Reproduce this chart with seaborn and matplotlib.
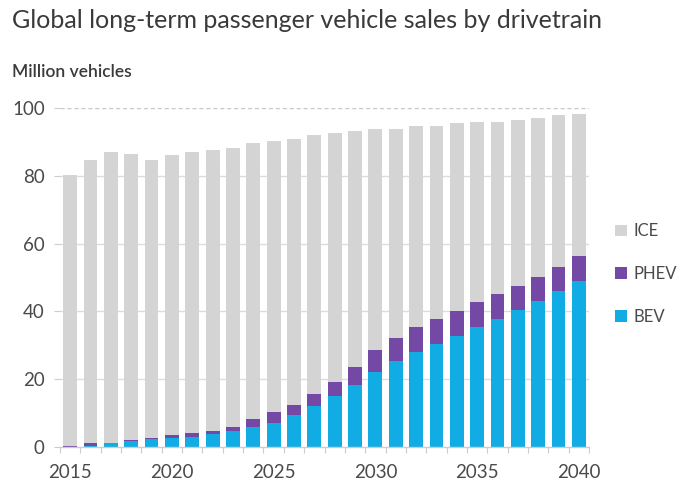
import numpy as np
import pandas as pd
import matplotlib
matplotlib.use("Agg")
import matplotlib.pyplot as plt
import seaborn as sns
from matplotlib.patches import Patch

years = list(range(2015, 2041))
bev = [0.1, 0.4, 1.1, 1.8, 2.3, 2.6, 3.1, 3.7, 4.6, 5.9, 7.1, 9.5, 12.1, 15.0,
       18.2, 22.0, 25.5, 28.0, 30.4, 32.9, 35.5, 37.8, 40.4, 43.1, 46.0, 49.1]
phev = [0.1, 0.7, 0.2, 0.3, 0.3, 0.8, 0.9, 0.9, 1.2, 2.3, 3.1, 3.0, 3.6, 4.3,
        5.5, 6.6, 6.8, 7.3, 7.4, 7.3, 7.4, 7.4, 7.2, 7.0, 7.2, 7.3]
ice = [80.0, 83.6, 85.8, 84.5, 82.1, 82.7, 83.1, 83.2, 82.6, 81.6, 80.1, 78.4,
       76.3, 73.4, 69.6, 65.4, 61.7, 59.4, 56.9, 55.3, 53.1, 50.8, 48.9, 47.0,
       44.7, 42.0]
series = ["ICE", "PHEV", "BEV"]
colors = {"ICE": "#d4d4d4", "PHEV": "#7449a6", "BEV": "#12ace4"}

df = pd.DataFrame({"year": years, "BEV": bev, "PHEV": phev, "ICE": ice})
df["ev"] = df["BEV"] + df["PHEV"]
df["total"] = df["ev"] + df["ICE"]

sns.set_theme(style="white")
plt.rcParams["font.family"] = ["Lato", "DejaVu Sans"]

fig = plt.figure(figsize=(6.85, 4.91), dpi=100)
ax = fig.add_axes([0.0876, 0.0896, 0.7723, 0.690])

grid_c = "#dcdcdc"
for v in [20, 40, 60, 80]:
    ax.axhline(v, color=grid_c, lw=1.0, zorder=0)
ax.axhline(100, color="#c8c8c8", lw=1.0, ls=(0, (3, 2)), zorder=0)

bw = 0.68
sns.barplot(data=df, x="year", y="total", color=colors["ICE"], width=bw,
            saturation=1, ax=ax, zorder=2, linewidth=0)
sns.barplot(data=df, x="year", y="ev", color=colors["PHEV"], width=bw,
            saturation=1, ax=ax, zorder=3, linewidth=0)
sns.barplot(data=df, x="year", y="BEV", color=colors["BEV"], width=bw,
            saturation=1, ax=ax, zorder=4, linewidth=0)

ax.set_xlim(-0.5, 25.5)
ax.set_ylim(0, 100)
ax.set_xlabel("")
ax.set_ylabel("")

major = [i for i, y in enumerate(years) if y % 5 == 0]
ax.set_xticks(major)
ax.set_xticklabels([str(years[i]) for i in major])
ax.set_xticks(np.arange(-0.5, 25.6, 1.0), minor=True)
ax.tick_params(axis="x", which="major", length=0, pad=12, labelsize=13.5,
               labelcolor="#4a4a4a")
ax.tick_params(axis="x", which="minor", length=4, width=0.8, color="#d8c8c8",
               bottom=True)
ax.set_yticks([0, 20, 40, 60, 80, 100])
ax.tick_params(axis="y", length=4, width=0.8, color="#cccccc", pad=7,
               labelsize=13.5, labelcolor="#4a4a4a", left=True)

for s in ["top", "right", "left"]:
    ax.spines[s].set_visible(False)
ax.spines["bottom"].set_color("#cccccc")
ax.spines["bottom"].set_linewidth(1.0)
ax.spines["bottom"].set_zorder(5)

handles = [Patch(facecolor=colors[s], edgecolor="none", label=s) for s in series]
leg = fig.legend(handles=handles, loc="center left",
                 bbox_to_anchor=(0.876, 0.442), frameon=False,
                 fontsize=12, handlelength=0.7, handleheight=0.7,
                 handletextpad=0.4, labelspacing=1.6, labelcolor="#4a4a4a")

fig.text(0.018, 0.958, "Global long-term passenger vehicle sales by drivetrain",
         fontsize=18, color="#3a3a3a", va="center", ha="left")
fig.text(0.018, 0.853, "Million vehicles", fontsize=12.5, color="#3a3a3a",
         va="center", ha="left", fontweight="semibold")

fig.savefig("out.png", dpi=100)
